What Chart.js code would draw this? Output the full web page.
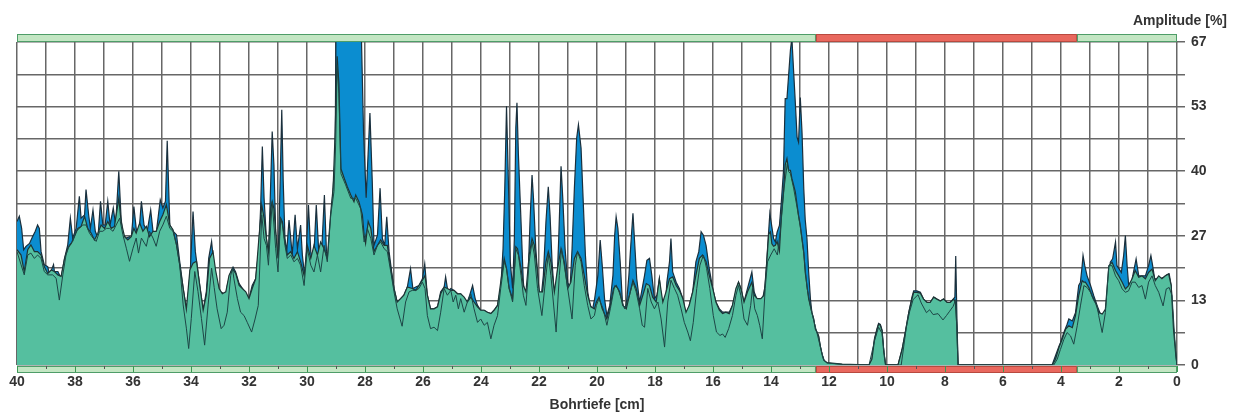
<!DOCTYPE html>
<html>
<head>
<meta charset="utf-8">
<script src="https://cdn.jsdelivr.net/npm/chart.js@4.4.1/dist/chart.umd.min.js"></script>
<style>
  body { margin: 0; background: #ffffff; }
  #wrap { width: 1236px; height: 415px; }
</style>
</head>
<body>
<div id="wrap"><canvas id="chart" width="1236" height="415"></canvas></div>
<script>
// depth [cm] / amplitude [%] pairs
const upperTrace = [
  [40.00,29.6],[39.92,30.7],[39.84,28.2],[39.77,23.8],[39.69,24.5],[39.57,25.1],[39.46,26.5],[39.37,27.6],[39.29,28.9],[39.23,28.2],
  [39.17,23.4],[39.06,20.7],[38.94,20.3],[38.88,18.6],[38.74,20.7],[38.71,19.3],[38.59,19.3],[38.48,17.9],[38.36,22.0],[38.25,24.8],
  [38.16,30.3],[38.08,26.2],[37.96,28.2],[37.85,34.8],[37.79,30.3],[37.67,31.0],[37.62,36.2],[37.53,31.0],[37.47,28.2],[37.38,32.0],
  [37.30,27.6],[37.21,26.2],[37.12,33.8],[37.04,28.9],[36.96,28.9],[36.87,33.8],[36.79,28.9],[36.68,32.4],[36.60,28.9],[36.49,40.0],
  [36.41,30.3],[36.35,26.9],[36.23,26.2],[36.12,26.5],[36.06,26.2],[35.97,32.7],[35.89,28.2],[35.81,26.2],[35.71,33.8],[35.62,28.9],
  [35.51,27.6],[35.39,32.0],[35.31,27.6],[35.20,27.2],[35.06,34.1],[34.97,32.4],[34.88,33.8],[34.82,46.3],[34.73,28.9],[34.62,27.6],
  [34.50,26.9],[34.39,21.4],[34.27,15.8],[34.16,11.7],[34.10,13.8],[34.02,20.0],[33.93,31.7],[33.85,23.4],[33.70,16.5],[33.58,11.4],
  [33.47,15.2],[33.39,22.0],[33.29,25.5],[33.21,20.6],[33.09,16.4],[32.98,15.1],[32.86,14.7],[32.80,14.4],[32.75,16.4],[32.63,19.2],
  [32.55,20.2],[32.46,19.2],[32.34,16.8],[32.23,15.8],[32.11,14.7],[32.00,13.7],[31.89,16.4],[31.77,17.8],[31.66,24.0],[31.60,32.3],
  [31.54,45.1],[31.48,34.4],[31.40,26.1],[31.33,22.0],[31.25,37.9],[31.20,48.2],[31.14,41.3],[31.08,27.5],[31.00,20.6],[30.94,34.4],
  [30.87,52.7],[30.82,37.9],[30.76,26.1],[30.70,23.4],[30.62,29.9],[30.56,26.1],[30.51,22.7],[30.41,31.0],[30.33,24.0],[30.22,28.9],
  [30.16,22.7],[30.07,17.8],[29.95,33.0],[29.87,23.4],[29.78,20.6],[29.68,33.0],[29.59,22.7],[29.49,24.0],[29.40,35.1],[29.33,23.4],
  [29.26,21.3],[29.18,28.9],[29.10,36.5],[29.03,42.7],[28.99,80.0],[28.17,80.0],[28.05,48.0],[27.96,34.5],[27.83,52.0],[27.75,38.0],
  [27.69,24.7],[27.57,26.8],[27.48,36.5],[27.40,26.1],[27.32,24.7],[27.25,30.6],[27.17,23.4],[27.08,19.2],[27.00,15.8],[26.89,13.0],
  [26.77,13.7],[26.66,14.4],[26.54,16.1],[26.43,19.9],[26.35,15.8],[26.25,16.1],[26.14,16.4],[26.02,17.8],[25.94,20.9],[25.85,14.4],
  [25.74,11.6],[25.62,11.6],[25.50,12.0],[25.39,15.1],[25.27,16.1],[25.22,18.2],[25.14,15.1],[25.04,15.8],[24.93,15.4],[24.81,14.7],
  [24.70,14.7],[24.58,13.7],[24.47,13.0],[24.39,14.4],[24.29,16.4],[24.20,13.7],[24.12,12.3],[24.01,11.3],[23.89,11.3],[23.78,10.9],
  [23.66,10.6],[23.55,11.3],[23.43,12.3],[23.32,15.8],[23.24,24.0],[23.18,36.5],[23.12,53.4],[23.05,36.5],[22.99,21.3],[22.91,15.8],
  [22.85,26.1],[22.80,48.9],[22.76,54.1],[22.71,43.4],[22.62,29.6],[22.54,17.1],[22.47,13.0],[22.39,15.8],[22.31,29.6],[22.24,39.2],
  [22.19,34.4],[22.11,24.0],[22.01,15.8],[21.93,13.7],[21.85,18.5],[21.76,29.6],[21.68,36.8],[21.62,31.0],[21.55,21.3],[21.47,14.4],
  [21.39,15.1],[21.32,26.1],[21.24,41.0],[21.18,34.4],[21.10,24.0],[21.01,17.1],[20.93,15.8],[20.86,24.0],[20.78,36.5],[20.70,46.9],
  [20.64,49.6],[20.55,44.8],[20.47,33.0],[20.40,22.7],[20.32,15.1],[20.24,12.3],[20.15,11.6],[20.08,13.7],[19.97,18.5],[19.89,25.8],
  [19.82,20.6],[19.74,13.7],[19.66,10.2],[19.56,12.3],[19.45,18.5],[19.39,26.8],[19.34,30.6],[19.28,28.2],[19.20,21.3],[19.11,11.6],
  [18.99,12.3],[18.90,18.5],[18.82,26.1],[18.76,31.3],[18.71,26.1],[18.63,17.8],[18.53,13.0],[18.44,15.8],[18.36,18.5],[18.28,21.6],
  [18.19,22.0],[18.11,18.5],[18.02,13.7],[17.93,14.4],[17.85,17.8],[17.77,13.0],[17.67,9.5],[17.59,17.1],[17.50,21.3],[17.45,26.1],
  [17.39,19.2],[17.27,17.1],[17.16,15.8],[17.04,13.7],[16.93,10.2],[16.82,12.3],[16.70,15.1],[16.59,21.3],[16.49,23.4],[16.41,27.5],
  [16.33,26.8],[16.24,24.7],[16.13,19.9],[16.01,15.8],[15.90,13.0],[15.78,11.6],[15.67,10.9],[15.56,10.9],[15.44,10.9],[15.33,12.3],
  [15.21,15.1],[15.12,17.1],[15.04,15.8],[14.93,13.0],[14.81,15.8],[14.66,19.2],[14.58,15.1],[14.49,13.7],[14.39,13.7],[14.30,13.3],
  [14.20,16.4],[14.12,24.0],[14.04,31.3],[13.97,28.5],[13.91,26.1],[13.85,25.4],[13.79,27.4],[13.71,28.8],[13.64,34.0],[13.57,40.0],
  [13.51,55.0],[13.45,55.0],[13.39,60.0],[13.33,65.0],[13.28,67.5],[13.22,60.6],[13.16,54.0],[13.10,47.0],[13.05,46.0],[12.99,55.2],
  [12.93,48.0],[12.87,36.4],[12.82,30.0],[12.76,26.1],[12.70,19.1],[12.64,13.6],[12.59,10.8],[12.53,9.5],[12.47,7.4],[12.41,6.7],
  [12.36,6.0],[12.30,3.9],[12.24,2.2],[12.18,1.2],[12.13,0.6],[12.01,0.3],[11.55,0.1],[11.00,0.0],[10.62,0.0],[10.52,1.2],
  [10.43,5.5],[10.34,7.6],[10.29,8.6],[10.23,8.4],[10.17,7.2],[10.11,2.6],[10.05,0.0],[9.62,0.0],[9.48,3.2],[9.37,6.7],
  [9.25,10.8],[9.14,14.0],[9.08,15.3],[8.97,15.3],[8.85,15.0],[8.74,13.6],[8.62,12.9],[8.51,12.9],[8.39,14.0],[8.28,13.6],
  [8.16,13.2],[8.05,13.6],[7.93,12.9],[7.82,12.9],[7.72,13.6],[7.66,14.0],[7.63,22.5],[7.59,10.0],[7.55,0.0],[4.35,0.0],
  [4.30,0.1],[4.19,1.9],[4.07,3.9],[4.02,4.6],[3.90,6.7],[3.79,8.4],[3.73,9.5],[3.61,9.1],[3.50,10.8],[3.39,16.4],
  [3.33,17.1],[3.27,20.5],[3.24,22.6],[3.18,20.5],[3.10,18.4],[2.98,16.4],[2.87,14.3],[2.75,12.2],[2.64,10.5],[2.49,10.5],
  [2.41,13.6],[2.30,21.2],[2.22,21.9],[2.12,25.4],[2.07,20.5],[1.99,19.8],[1.92,19.1],[1.84,22.6],[1.78,26.7],[1.72,20.5],
  [1.67,16.7],[1.57,17.1],[1.49,19.5],[1.41,21.9],[1.32,18.4],[1.21,18.4],[1.09,18.4],[0.98,20.5],[0.90,22.6],[0.84,20.5],
  [0.77,17.8],[0.69,17.8],[0.58,17.8],[0.46,18.1],[0.35,18.6],[0.27,18.8],[0.20,16.4],[0.12,7.4],[0.04,1.9],[0.00,0.0]
];

const middleTrace = [
  [40.00,23.8],[39.86,22.7],[39.75,19.3],[39.63,23.8],[39.52,24.8],[39.40,23.4],[39.29,23.4],[39.17,22.7],[39.06,20.3],[38.94,18.9],
  [38.82,19.6],[38.71,19.3],[38.59,18.6],[38.48,18.3],[38.36,22.0],[38.25,24.1],[38.13,25.1],[38.02,26.5],[37.90,28.2],[37.79,28.6],
  [37.67,30.7],[37.56,28.2],[37.44,27.2],[37.33,25.8],[37.21,27.2],[37.10,28.9],[36.98,28.2],[36.87,29.6],[36.75,28.2],[36.64,28.6],
  [36.49,34.4],[36.41,29.6],[36.29,26.5],[36.18,25.8],[36.06,26.5],[35.97,28.2],[35.89,27.2],[35.77,29.3],[35.66,27.6],[35.54,28.6],
  [35.43,26.5],[35.31,27.6],[35.20,27.6],[35.08,29.6],[34.97,31.0],[34.85,33.1],[34.73,28.9],[34.62,27.9],[34.50,24.8],[34.39,20.7],
  [34.27,15.8],[34.16,11.5],[34.04,19.6],[33.93,21.0],[33.81,21.4],[33.70,16.5],[33.58,11.3],[33.47,14.5],[33.36,22.0],[33.24,23.4],
  [33.15,19.5],[33.03,15.8],[32.92,14.7],[32.80,15.1],[32.69,18.5],[32.57,19.9],[32.46,18.9],[32.34,16.4],[32.23,15.8],[32.11,15.1],
  [32.00,13.7],[31.89,15.8],[31.77,17.8],[31.66,26.1],[31.56,33.0],[31.48,30.3],[31.40,26.1],[31.33,23.4],[31.25,32.3],[31.20,33.7],
  [31.14,32.3],[31.08,27.5],[31.00,22.0],[30.91,30.3],[30.85,29.6],[30.76,25.4],[30.68,22.7],[30.56,23.4],[30.45,22.0],[30.33,23.4],
  [30.22,21.3],[30.10,18.5],[29.99,24.7],[29.87,22.0],[29.76,24.7],[29.64,22.7],[29.53,25.4],[29.41,24.0],[29.30,22.0],[29.18,31.6],
  [29.10,36.5],[29.03,48.0],[28.96,63.7],[28.90,58.0],[28.83,40.5],[28.72,38.6],[28.61,36.8],[28.49,35.1],[28.38,33.7],[28.32,35.1],
  [28.21,33.7],[28.09,31.0],[28.03,26.8],[27.98,25.1],[27.89,29.6],[27.80,28.2],[27.69,23.4],[27.57,24.7],[27.46,25.8],[27.34,24.7],
  [27.23,24.7],[27.11,19.9],[27.00,15.8],[26.89,13.0],[26.77,13.7],[26.66,14.4],[26.54,16.1],[26.37,15.8],[26.25,15.4],[26.14,16.4],
  [26.02,17.5],[25.93,18.5],[25.85,14.4],[25.74,11.6],[25.62,11.6],[25.50,12.0],[25.39,14.7],[25.27,16.1],[25.16,15.8],[25.04,15.4],
  [24.93,15.4],[24.81,14.7],[24.70,14.7],[24.58,14.0],[24.47,13.0],[24.35,14.0],[24.24,13.0],[24.12,12.0],[24.01,11.3],[23.89,11.3],
  [23.78,10.9],[23.66,10.6],[23.55,11.3],[23.43,12.3],[23.32,17.1],[23.20,22.0],[23.12,19.9],[23.03,15.8],[22.91,13.7],[22.80,24.4],
  [22.74,24.0],[22.62,19.9],[22.54,16.4],[22.45,15.1],[22.34,22.7],[22.24,26.1],[22.16,24.7],[22.08,20.6],[21.99,15.1],[21.88,15.1],
  [21.76,21.3],[21.68,23.4],[21.59,21.3],[21.47,15.1],[21.36,19.9],[21.24,24.0],[21.13,21.3],[21.01,15.8],[20.90,17.1],[20.78,22.0],
  [20.67,23.4],[20.55,22.0],[20.44,18.5],[20.32,14.4],[20.21,12.0],[20.09,11.6],[20.02,13.0],[19.93,14.0],[19.82,11.6],[19.66,9.5],
  [19.54,12.3],[19.43,15.8],[19.34,16.4],[19.22,15.1],[19.11,12.3],[18.99,11.6],[18.88,14.4],[18.76,17.5],[18.65,15.8],[18.53,12.3],
  [18.42,14.4],[18.30,16.8],[18.19,16.4],[18.08,14.0],[17.96,13.0],[17.85,17.8],[17.73,13.0],[17.62,15.1],[17.50,17.8],[17.39,18.2],
  [17.27,16.4],[17.16,15.4],[17.04,13.7],[16.93,10.9],[16.82,12.3],[16.70,15.1],[16.59,18.5],[16.47,22.0],[16.36,22.7],[16.24,21.3],
  [16.13,18.5],[16.01,15.8],[15.90,13.0],[15.78,11.3],[15.67,10.6],[15.56,10.9],[15.44,10.6],[15.33,12.3],[15.21,15.8],[15.12,17.1],
  [15.04,15.8],[14.93,13.0],[14.81,15.1],[14.66,17.1],[14.58,14.4],[14.47,13.7],[14.35,13.7],[14.24,14.4],[14.16,20.0],[14.08,27.0],
  [14.02,27.5],[13.97,25.0],[13.91,24.5],[13.85,24.7],[13.79,25.5],[13.71,23.5],[13.64,30.9],[13.56,36.4],[13.51,41.3],[13.45,42.6],
  [13.39,40.2],[13.33,40.2],[13.28,38.5],[13.22,37.1],[13.16,35.7],[13.10,33.0],[13.05,30.9],[12.99,28.8],[12.93,26.1],[12.87,23.3],
  [12.82,19.1],[12.76,16.4],[12.70,13.6],[12.64,12.2],[12.59,10.8],[12.53,9.5],[12.47,7.4],[12.41,6.7],[12.36,6.0],[12.30,3.9],
  [12.24,2.2],[12.18,1.0],[12.07,0.5],[11.55,0.2],[11.00,0.1],[10.70,0.0],[10.62,0.0],[10.52,1.2],[10.43,5.3],[10.34,7.4],
  [10.29,8.4],[10.23,8.2],[10.17,7.0],[10.11,2.6],[10.05,0.0],[9.62,0.0],[9.48,3.2],[9.37,6.7],[9.25,10.8],[9.14,13.6],
  [9.08,15.0],[8.97,15.0],[8.85,14.8],[8.74,13.6],[8.62,12.9],[8.51,12.9],[8.39,14.0],[8.28,13.6],[8.16,13.2],[8.05,13.6],
  [7.93,12.9],[7.82,12.9],[7.70,13.6],[7.64,12.9],[7.59,8.0],[7.55,0.0],[4.35,0.0],[4.30,0.0],[4.19,1.2],[4.07,3.6],
  [3.96,5.3],[3.84,7.4],[3.73,8.1],[3.61,7.7],[3.50,10.2],[3.39,14.3],[3.27,17.4],[3.21,17.1],[3.16,17.1],[3.04,16.0],
  [2.93,14.3],[2.81,12.9],[2.70,10.8],[2.58,10.5],[2.47,11.5],[2.35,20.5],[2.24,21.2],[2.12,19.5],[2.01,18.4],[1.89,17.1],
  [1.78,15.7],[1.67,16.4],[1.55,17.8],[1.44,19.5],[1.32,18.1],[1.21,18.4],[1.09,17.8],[0.98,19.1],[0.86,19.8],[0.75,17.4],
  [0.63,18.4],[0.52,17.8],[0.40,18.4],[0.29,18.8],[0.20,16.4],[0.12,7.4],[0.04,1.9],[0.00,0.0]
];

const lowerTrace = [
  [40.00,23.4],[39.86,20.7],[39.75,18.6],[39.63,22.7],[39.52,23.1],[39.40,22.0],[39.29,22.7],[39.17,22.0],[39.06,19.3],[38.94,18.6],
  [38.77,18.6],[38.65,17.9],[38.54,13.4],[38.42,18.6],[38.31,22.7],[38.19,24.8],[38.08,25.5],[37.96,27.6],[37.85,28.2],[37.73,28.9],
  [37.62,28.9],[37.50,27.2],[37.38,26.2],[37.27,25.5],[37.15,27.6],[37.04,27.6],[36.92,28.2],[36.81,28.2],[36.69,27.6],[36.58,28.9],
  [36.46,30.3],[36.35,26.9],[36.23,24.1],[36.12,21.4],[36.00,24.1],[35.89,26.2],[35.81,23.1],[35.71,26.2],[35.54,24.5],[35.43,27.6],
  [35.31,26.2],[35.20,24.5],[35.08,27.6],[34.97,28.9],[34.85,30.7],[34.73,28.2],[34.62,27.6],[34.50,24.8],[34.39,20.7],[34.27,12.4],
  [34.16,7.6],[34.08,3.4],[33.99,9.6],[33.87,19.3],[33.76,15.2],[33.64,9.6],[33.53,4.1],[33.41,12.4],[33.29,20.0],[33.20,16.0],
  [33.10,11.6],[32.96,7.5],[32.86,8.2],[32.75,10.9],[32.63,18.5],[32.57,19.9],[32.52,17.8],[32.40,13.7],[32.29,10.9],[32.17,10.2],
  [32.06,8.8],[31.91,6.8],[31.79,9.5],[31.68,12.3],[31.56,31.0],[31.48,26.1],[31.40,24.7],[31.33,20.6],[31.25,28.9],[31.20,33.7],
  [31.14,28.9],[31.08,24.0],[31.00,19.2],[30.91,30.3],[30.85,28.9],[30.76,24.7],[30.68,22.0],[30.56,22.7],[30.45,21.3],[30.33,22.0],
  [30.22,20.6],[30.10,16.4],[29.99,24.0],[29.87,20.6],[29.76,19.2],[29.64,22.7],[29.53,19.2],[29.41,24.7],[29.30,21.3],[29.18,31.0],
  [29.07,35.8],[29.01,46.0],[28.96,62.0],[28.90,56.0],[28.83,39.5],[28.67,37.2],[28.49,34.4],[28.32,34.4],[28.15,32.3],[28.03,25.4],
  [27.92,28.2],[27.80,26.1],[27.69,22.7],[27.57,24.7],[27.46,25.4],[27.34,24.0],[27.23,23.4],[27.11,19.2],[27.00,15.1],[26.89,11.6],
  [26.72,8.0],[26.60,13.0],[26.48,15.1],[26.37,15.4],[26.25,15.4],[26.14,15.8],[26.02,17.1],[25.93,15.8],[25.85,10.2],[25.74,7.5],
  [25.62,7.8],[25.50,7.1],[25.39,10.9],[25.27,15.8],[25.16,14.4],[25.04,15.4],[24.96,13.0],[24.87,14.4],[24.78,11.6],[24.70,13.7],
  [24.58,10.9],[24.47,13.0],[24.35,14.7],[24.24,11.6],[24.12,8.8],[24.01,9.5],[23.89,8.2],[23.78,8.8],[23.66,5.4],[23.55,8.2],
  [23.43,10.2],[23.32,15.8],[23.20,21.3],[23.12,19.9],[23.03,15.8],[22.91,13.0],[22.80,24.0],[22.71,22.7],[22.62,18.5],[22.54,14.4],
  [22.45,12.3],[22.34,21.3],[22.24,25.4],[22.16,22.7],[22.05,15.8],[21.90,10.2],[21.76,18.5],[21.68,22.7],[21.59,18.5],[21.41,6.8],
  [21.30,18.5],[21.22,24.0],[21.13,20.6],[21.01,15.8],[20.86,9.5],[20.75,20.6],[20.67,23.4],[20.55,21.3],[20.44,16.4],[20.32,12.3],
  [20.21,9.5],[20.09,10.2],[20.02,12.3],[19.93,13.7],[19.79,11.6],[19.66,8.2],[19.54,11.6],[19.39,16.4],[19.28,15.8],[19.16,13.7],
  [19.05,11.6],[18.88,14.4],[18.76,17.1],[18.65,15.1],[18.53,11.6],[18.44,8.2],[18.36,7.8],[18.25,15.8],[18.13,13.0],[18.02,11.6],
  [17.90,13.0],[17.79,9.5],[17.67,3.7],[17.56,13.0],[17.45,17.5],[17.33,15.8],[17.22,14.4],[17.10,11.6],[16.99,8.8],[16.87,6.8],
  [16.78,5.0],[16.68,8.8],[16.56,15.8],[16.45,20.6],[16.33,22.7],[16.22,19.9],[16.11,15.8],[15.99,10.2],[15.88,6.8],[15.76,6.1],
  [15.67,6.4],[15.58,5.7],[15.46,7.5],[15.33,10.2],[15.21,14.4],[15.12,16.4],[15.04,14.4],[14.93,9.5],[14.81,8.2],[14.70,12.3],
  [14.64,15.8],[14.56,11.6],[14.47,10.2],[14.39,8.2],[14.30,5.4],[14.20,15.8],[14.12,21.3],[14.01,22.7],[13.89,24.0],[13.78,22.7],
  [13.67,28.2],[13.55,36.5],[13.44,41.5],[13.39,39.9],[13.33,39.5],[13.22,36.5],[13.10,32.5],[12.99,28.5],[12.87,23.0],[12.76,16.0],
  [12.64,12.0],[12.53,9.3],[12.41,6.5],[12.30,3.8],[12.18,1.0],[12.07,0.4],[11.50,0.1],[10.70,0.0],[10.62,0.0],[10.43,5.0],
  [10.29,7.8],[10.17,6.5],[10.05,0.0],[9.51,0.0],[9.33,7.9],[9.22,11.0],[9.10,13.5],[8.93,14.5],[8.82,12.8],[8.64,10.8],
  [8.53,11.4],[8.41,10.4],[8.24,10.6],[8.07,9.3],[7.95,10.2],[7.84,11.1],[7.72,12.1],[7.63,13.5],[7.55,0.0],[4.30,0.0],
  [4.25,0.0],[4.13,1.2],[4.02,3.2],[3.90,5.3],[3.79,6.7],[3.67,6.0],[3.56,4.3],[3.44,8.1],[3.33,12.2],[3.21,16.4],
  [3.10,16.0],[2.98,15.0],[2.87,13.3],[2.75,12.2],[2.70,10.2],[2.58,6.7],[2.47,10.8],[2.35,20.5],[2.24,20.5],[2.12,18.4],
  [2.01,17.4],[1.89,15.7],[1.78,15.0],[1.67,15.3],[1.55,17.1],[1.44,17.1],[1.32,16.0],[1.21,16.4],[1.09,13.6],[0.98,17.1],
  [0.86,18.4],[0.75,16.4],[0.63,15.0],[0.48,12.2],[0.37,15.7],[0.27,16.0],[0.17,14.3],[0.09,6.7],[0.03,1.5],[0.00,0.0]
];

// coverage bar along top and bottom: [from, to, state]
const coverageSegments = [[40, 12.45, 'ok'], [12.45, 3.45, 'gap'], [3.45, 0, 'ok']];

const depthLabels = [40, 38, 36, 34, 32, 30, 28, 26, 24, 22, 20, 18, 16, 14, 12, 10, 8, 6, 4, 2, 0];
const ampLabels = ['0', '13', '27', '40', '53', '67'];
const ampMax = 200 / 3;

const FONT = 'Arial, "Liberation Sans", sans-serif';
const toPoints = arr => arr.map(p => ({ x: p[0], y: p[1] }));

const bandPlugin = {
  id: 'bands',
  afterDatasetsDraw(chart) {
    const { ctx, chartArea, scales } = chart;
    const xs = scales.x;
    const fills = { ok: '#c3e6c3', gap: '#e9685e' };
    const edges = { ok: '#4e9d68', gap: '#b8493f' };
    const rows = [[34, 8], [366, 7]];
    ctx.save();
    rows.forEach(([top, h]) => {
      coverageSegments.forEach(([a, b, state]) => {
        const x1 = xs.getPixelForValue(a);
        const x2 = xs.getPixelForValue(b);
        ctx.fillStyle = fills[state];
        ctx.fillRect(x1, top, x2 - x1, h);
        ctx.strokeStyle = edges[state];
        ctx.lineWidth = 1;
        ctx.strokeRect(x1 + 0.5, top + 0.5, x2 - x1 - 1, h - 1);
      });
    });
    // small depth ticks in the lower bar
    for (let d = 0; d <= 40; d++) {
      const x = Math.round(xs.getPixelForValue(d)) + 0.5;
      ctx.beginPath();
      ctx.strokeStyle = d % 2 === 0 ? '#3a9a52' : '#555555';
      ctx.moveTo(x, 366);
      ctx.lineTo(x, d % 2 === 0 ? 372 : 369);
      ctx.stroke();
    }
    ctx.fillStyle = '#333333';
    ctx.font = 'bold 14px ' + FONT;
    ctx.textAlign = 'right';
    ctx.textBaseline = 'middle';
    ctx.fillText('Amplitude [%]', 1227, 21);
    ctx.restore();
  }
};

new Chart(document.getElementById('chart'), {
  type: 'line',
  data: {
    datasets: [
      {
        label: 'Minimum',
        data: toPoints(lowerTrace),
        borderColor: '#1d4646',
        borderWidth: 1,
        fill: false,
        pointRadius: 0,
        order: 1
      },
      {
        label: 'Mittelwert',
        data: toPoints(middleTrace),
        borderColor: '#1e3434',
        backgroundColor: '#55bf9f',
        borderWidth: 1.2,
        fill: 'origin',
        pointRadius: 0,
        order: 2
      },
      {
        label: 'Maximum',
        data: toPoints(upperTrace),
        borderColor: '#1a2f3c',
        backgroundColor: '#0b8dd0',
        borderWidth: 1.2,
        fill: 'origin',
        pointRadius: 0,
        order: 3
      }
    ]
  },
  options: {
    responsive: false,
    animation: false,
    events: [],
    layout: { padding: { left: 17, top: 42, right: 0, bottom: 0 } },
    plugins: { legend: { display: false }, tooltip: { enabled: false } },
    scales: {
      x: {
        type: 'linear',
        min: 0,
        max: 40,
        reverse: true,
        afterFit(scale) { scale.height = 50; },
        afterBuildTicks(scale) {
          const t = [];
          for (let d = 0; d <= 40; d++) t.push({ value: d });
          scale.ticks = t;
        },
        grid: { color: '#676767', lineWidth: 1.5, drawTicks: false },
        border: { display: false },
        ticks: {
          autoSkip: false,
          maxRotation: 0,
          padding: 9,
          color: '#333333',
          font: { family: FONT, size: 14, weight: 'bold' },
          callback: v => depthLabels.includes(v) ? String(v) : ''
        },
        title: {
          display: true,
          text: 'Bohrtiefe [cm]',
          color: '#333333',
          font: { family: FONT, size: 14, weight: 'bold' },
          padding: { top: 0, bottom: 1 }
        }
      },
      y: {
        type: 'linear',
        position: 'right',
        min: 0,
        max: ampMax,
        afterFit(scale) { scale.width = 59; },
        afterBuildTicks(scale) {
          const t = [];
          for (let k = 0; k <= 10; k++) t.push({ value: ampMax * k / 10 });
          scale.ticks = t;
        },
        grid: { color: '#676767', lineWidth: 1.5, drawTicks: true, tickLength: 8 },
        border: { display: false },
        ticks: {
          padding: 6,
          color: '#333333',
          font: { family: FONT, size: 14, weight: 'bold' },
          callback: (v, i) => i % 2 === 0 ? ampLabels[i / 2] : ''
        }
      }
    }
  },
  plugins: [bandPlugin]
});
</script>
</body>
</html>
